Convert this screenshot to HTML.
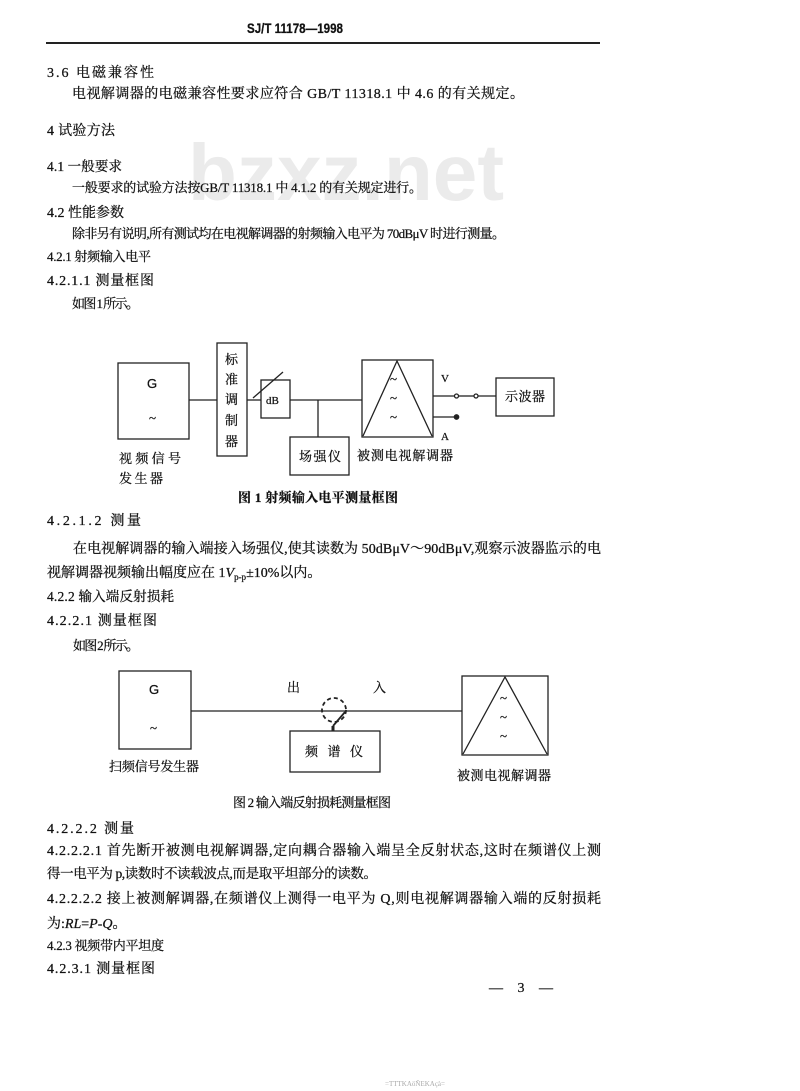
<!DOCTYPE html>
<html><head><meta charset="utf-8"><style>
html,body{margin:0;padding:0;background:#fff;}
svg{display:block;}
text{font-family:"Liberation Serif","Noto Serif CJK SC","Noto Sans CJK SC",serif;fill:#111;stroke:#111;stroke-width:0.25;}
.b{font-weight:bold;}
</style></head><body>
<svg width="800" height="1091" viewBox="0 0 800 1091" xmlns="http://www.w3.org/2000/svg">
<rect width="800" height="1091" fill="#fff"/>
<text x="188" y="200" font-size="80" font-weight="bold" textLength="316" lengthAdjust="spacingAndGlyphs" style="fill:#ebebeb;stroke:none;font-family:'Liberation Sans',sans-serif">bzxz.net</text>
<text x="247" y="33" font-size="14" class="b" textLength="96" lengthAdjust="spacingAndGlyphs" style="font-family:'Liberation Sans',sans-serif">SJ/T 11178—1998</text>
<line x1="46" y1="43" x2="600" y2="43" stroke="#222" stroke-width="2"/>

<g font-size="14">
<text x="47" y="77" textLength="107" lengthAdjust="spacing">3.6  电磁兼容性</text>
<text x="72" y="98" textLength="452" lengthAdjust="spacing">电视解调器的电磁兼容性要求应符合 GB/T 11318.1 中 4.6 的有关规定。</text>
<text x="47" y="135" textLength="68" lengthAdjust="spacing">4  试验方法</text>
<text x="47" y="171" textLength="75" lengthAdjust="spacing" font-size="13.5">4.1  一般要求</text>
<text x="72" y="192" textLength="350" lengthAdjust="spacing" font-size="13">一般要求的试验方法按GB/T 11318.1 中 4.1.2 的有关规定进行。</text>
<text x="47" y="217" textLength="77" lengthAdjust="spacing">4.2  性能参数</text>
<text x="72" y="238" textLength="433" lengthAdjust="spacing" font-size="13">除非另有说明,所有测试均在电视解调器的射频输入电平为 70dBμV 时进行测量。</text>
<text x="47" y="261" textLength="104" lengthAdjust="spacing" font-size="13">4.2.1  射频输入电平</text>
<text x="47" y="285" textLength="107" lengthAdjust="spacing">4.2.1.1  测量框图</text>
<text x="72" y="308" textLength="67" lengthAdjust="spacing" font-size="13">如图 1 所示。</text>

<text x="47" y="525" textLength="94" lengthAdjust="spacing">4.2.1.2  测量</text>
<text x="73" y="553" textLength="528" lengthAdjust="spacing">在电视解调器的输入端接入场强仪,使其读数为 50dBμV～90dBμV,观察示波器监示的电</text>
<text x="47" y="577">视解调器视频输出幅度应在 1<tspan font-style="italic">V</tspan><tspan font-size="9" dy="3">p-p</tspan><tspan dy="-3">±10%以内。</tspan></text>
<text x="47" y="601" textLength="127" lengthAdjust="spacing" font-size="13.5">4.2.2  输入端反射损耗</text>
<text x="47" y="625" textLength="110" lengthAdjust="spacing">4.2.2.1  测量框图</text>
<text x="73" y="650" textLength="66" lengthAdjust="spacing" font-size="13">如图 2 所示。</text>

<text x="47" y="833" textLength="87" lengthAdjust="spacing">4.2.2.2  测量</text>
<text x="47" y="855" textLength="554" lengthAdjust="spacing">4.2.2.2.1  首先断开被测电视解调器,定向耦合器输入端呈全反射状态,这时在频谱仪上测</text>
<text x="47" y="878" textLength="330" lengthAdjust="spacing" font-size="13.5">得一电平为 p,读数时不读载波点,而是取平坦部分的读数。</text>
<text x="47" y="903" textLength="554" lengthAdjust="spacing">4.2.2.2.2  接上被测解调器,在频谱仪上测得一电平为 Q,则电视解调器输入端的反射损耗</text>
<text x="47" y="928">为:<tspan font-style="italic">RL</tspan>=<tspan font-style="italic">P</tspan>-<tspan font-style="italic">Q</tspan>。</text>
<text x="47" y="950" textLength="117" lengthAdjust="spacing" font-size="13">4.2.3  视频带内平坦度</text>
<text x="47" y="973" textLength="108" lengthAdjust="spacing">4.2.3.1  测量框图</text>
<text x="489" y="992" textLength="64" lengthAdjust="spacing">—  3  —</text>
</g>

<g stroke="#222" stroke-width="1.3" fill="none">
<rect x="118" y="363" width="71" height="76"/>
<rect x="217" y="343" width="30" height="113"/>
<rect x="261" y="380" width="29" height="38"/>
<line x1="253" y1="398" x2="283" y2="372"/>
<rect x="290" y="437" width="59" height="38"/>
<rect x="362" y="360" width="71" height="77"/>
<polyline points="363,436 397,361 432,436"/>
<rect x="496" y="378" width="58" height="38"/>
<line x1="189" y1="400" x2="217" y2="400"/>
<line x1="247" y1="400" x2="261" y2="400"/>
<line x1="290" y1="400" x2="362" y2="400"/>
<line x1="318" y1="400" x2="318" y2="437"/>
<line x1="433" y1="396" x2="455" y2="396"/>
<line x1="458" y1="396" x2="474" y2="396"/>
<line x1="478" y1="396" x2="496" y2="396"/>
<line x1="433" y1="417" x2="455" y2="417"/>
<circle cx="456.5" cy="396" r="2"/>
<circle cx="476" cy="396" r="2"/>
<circle cx="456.5" cy="417" r="2.2" fill="#222"/>
</g>
<g font-size="13">
<text x="147" y="388" style="font-family:'Liberation Sans',sans-serif">G</text>
<text x="149" y="422">~</text>
<text x="225" y="364">标</text><text x="225" y="384">准</text><text x="225" y="404">调</text><text x="225" y="425">制</text><text x="225" y="446">器</text>
<text x="266" y="404" font-size="11">dB</text>
<text x="299" y="461" textLength="42" lengthAdjust="spacing">场强仪</text>
<text x="390" y="383">~</text><text x="390" y="402">~</text><text x="390" y="421">~</text>
<text x="441" y="382" font-size="11">V</text>
<text x="441" y="440" font-size="11">A</text>
<text x="505" y="401" textLength="40" lengthAdjust="spacing">示波器</text>
<text x="119" y="463" textLength="62" lengthAdjust="spacing">视频信号</text>
<text x="119" y="483" textLength="44" lengthAdjust="spacing">发生器</text>
<text x="357" y="460" textLength="96" lengthAdjust="spacing">被测电视解调器</text>
<text x="238" y="502" textLength="160" lengthAdjust="spacing" class="b">图 1   射频输入电平测量框图</text>
</g>

<g stroke="#222" stroke-width="1.3" fill="none">
<rect x="119" y="671" width="72" height="78"/>
<line x1="191" y1="711" x2="462" y2="711"/>
<circle cx="334" cy="710" r="12" stroke-dasharray="4,3" stroke-width="1.8"/>
<line x1="333" y1="726" x2="345" y2="712" stroke-width="1.8"/>
<line x1="333" y1="726" x2="333" y2="731" stroke-width="3"/>
<rect x="290" y="731" width="90" height="41"/>
<rect x="462" y="676" width="86" height="79"/>
<polyline points="463,754 505,677 547,754"/>
</g>
<g font-size="13">
<text x="149" y="694" style="font-family:'Liberation Sans',sans-serif">G</text>
<text x="150" y="732">~</text>
<text x="287" y="692">出</text>
<text x="373" y="692">入</text>
<text x="305" y="756" textLength="58" lengthAdjust="spacing">频 谱 仪</text>
<text x="500" y="702">~</text><text x="500" y="721">~</text><text x="500" y="740">~</text>
<text x="109" y="771" textLength="90" lengthAdjust="spacing">扫频信号发生器</text>
<text x="457" y="780" textLength="94" lengthAdjust="spacing">被测电视解调器</text>
<text x="233" y="807" textLength="158" lengthAdjust="spacing">图 2   输入端反射损耗测量框图</text>
</g>
<text x="385" y="1086" font-size="7" style="fill:#aaa;stroke:none">=TTTKAöÑEKAçà=</text>
</svg>
</body></html>
